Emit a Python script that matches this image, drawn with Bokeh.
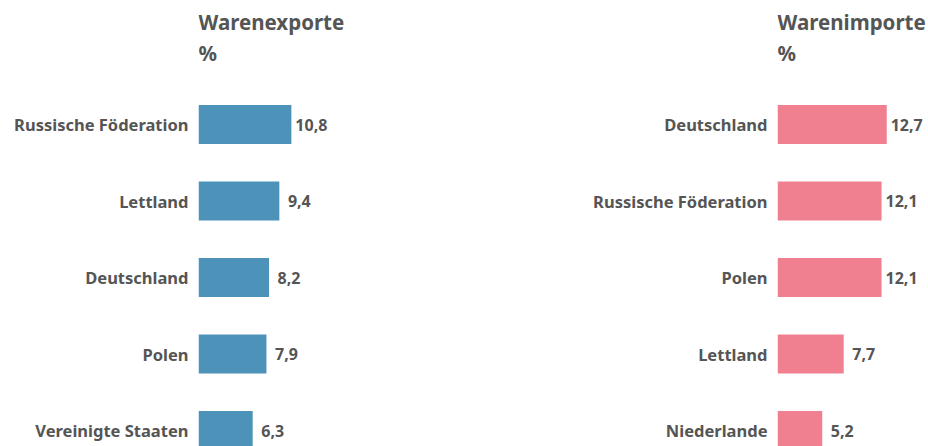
from bokeh.plotting import figure
from bokeh.layouts import row
from bokeh.models import Range1d, FixedTicker, Label, ColumnDataSource
from bokeh.embed import file_html
from bokeh.resources import INLINE

export_countries = ["Russische Föderation", "Lettland", "Deutschland", "Polen", "Vereinigte Staaten"]
export_values = [10.8, 9.4, 8.2, 7.9, 6.3]
import_countries = ["Deutschland", "Russische Föderation", "Polen", "Lettland", "Niederlande"]
import_values = [12.7, 12.1, 12.1, 7.7, 5.2]
export_title = "Warenexporte"
import_title = "Warenimporte"
unit = "%"

FONT = "Noto Sans"
TXT = "#555555"
PX_PER_UNIT = 8.6   # horizontal scale, px per percent
BAND = 76.5         # px per category row
H = 446
FIRST_CENTER = 124  # px from top to first bar centre


def panel(cats, vals, title, color, width, left):
    frame_w = width - left
    top_val = -FIRST_CENTER / BAND
    bottom_val = top_val + H / BAND
    p = figure(width=width, height=H, output_backend="svg", toolbar_location=None,
               x_range=Range1d(0, frame_w / PX_PER_UNIT),
               y_range=Range1d(bottom_val, top_val),
               min_border_left=left, min_border_right=0, min_border_bottom=0,
               min_border_top=0, title=None)
    # header lines (positions in px from top of the canvas)
    for txt, base_px in ((title, 21), (unit, 52)):
        p.add_layout(Label(x=0, y=top_val + base_px / BAND, text=txt, text_font=FONT,
                           text_font_size="20.5px", text_font_style="bold", text_color=TXT,
                           text_align="left", text_baseline="alphabetic"))
    ys = list(range(len(cats)))
    src = ColumnDataSource(dict(y=ys, v=vals, lab=[f"{v:.1f}".replace(".", ",") for v in vals]))
    p.hbar(y="y", left=0, right="v", height=0.51, source=src, fill_color=color, line_color=None)
    p.text(x="v", y="y", text="lab", source=src, x_offset=20, text_align="center",
           text_baseline="middle", text_font={"value": FONT}, text_font_size="16px",
           text_font_style="bold", text_color=TXT)
    p.xaxis.visible = False
    p.yaxis.ticker = FixedTicker(ticks=ys)
    p.yaxis.major_label_overrides = {i: c for i, c in enumerate(cats)}
    p.yaxis.axis_line_color = None
    p.yaxis.major_tick_line_color = None
    p.yaxis.minor_tick_line_color = None
    p.yaxis.major_label_standoff = 4
    p.yaxis.major_label_text_font = FONT
    p.yaxis.major_label_text_font_size = "16.5px"
    p.yaxis.major_label_text_font_style = "bold"
    p.yaxis.major_label_text_color = TXT
    p.grid.visible = False
    p.outline_line_color = None
    return p


p1 = panel(export_countries, export_values, export_title, "#4d93b9", 464, 198)
p2 = panel(import_countries, import_values, import_title, "#f08090", 464, 313)
layout = row(p1, p2)
open("out.html", "w").write(file_html(layout, INLINE))
